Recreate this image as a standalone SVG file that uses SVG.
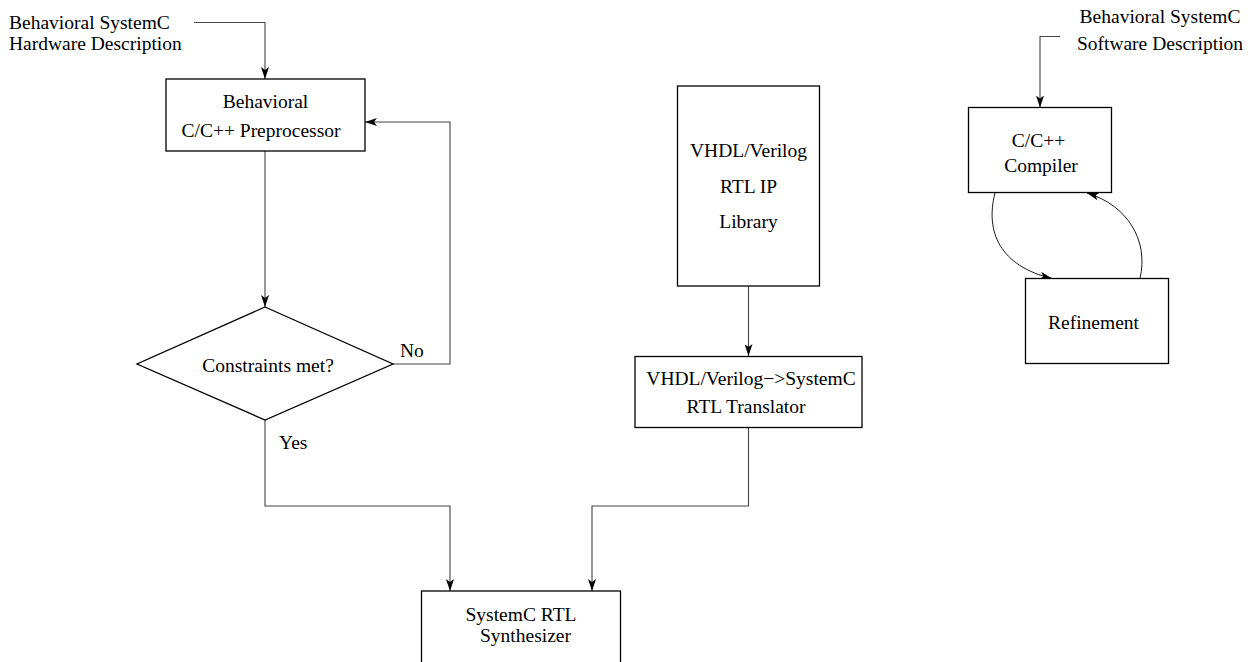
<svg xmlns="http://www.w3.org/2000/svg" width="1251" height="662" viewBox="0 0 1251 662">
  <style>
    .box { fill: #fff; stroke: #000; stroke-width: 1.3; }
    .lbl { font-family: "Liberation Serif", "Times New Roman", serif; font-size: 19.5px; fill: #000; }
    .mid { text-anchor: middle; }
    .wire { fill: none; stroke: #444; stroke-width: 1.1; }
    .curve { fill: none; stroke: #000; stroke-width: 0.9; }
  </style>
  <defs>
    <marker id="arrow" viewBox="0 0 12 8" refX="12" refY="4" markerWidth="12" markerHeight="8" markerUnits="userSpaceOnUse" orient="auto">
      <path d="M0,0 L12,4 L0,8 L3,4 z" fill="#000"/>
    </marker>
  </defs>

  <rect width="1251" height="662" fill="#fff"/>

  <!-- connectors -->
  <g id="connectors">
    <path class="wire" d="M194,22.5 H265 V79" marker-end="url(#arrow)"/>
    <path class="wire" d="M265,151 V307" marker-end="url(#arrow)"/>
    <path class="wire" d="M393,364 H450 V122 H365" marker-end="url(#arrow)"/>
    <path class="wire" d="M265,420 V506 H450 V591" marker-end="url(#arrow)"/>
    <path class="wire" d="M748.5,286 V356" marker-end="url(#arrow)"/>
    <path class="wire" d="M748.5,428 V506 H592 V591" marker-end="url(#arrow)"/>
    <path class="wire" d="M1060,36.5 H1040 V107.5" marker-end="url(#arrow)"/>
    <path class="curve" d="M995,193 C985,232 1000,266 1052,278.5" marker-end="url(#arrow)"/>
    <path class="curve" d="M1140,278.5 C1149,240 1127,205 1087,193" marker-end="url(#arrow)"/>
  </g>

  <!-- free-standing input labels -->
  <g id="hw-input">
    <text class="lbl" x="9" y="29">Behavioral SystemC</text>
    <text class="lbl" x="9" y="50">Hardware Description</text>
  </g>
  <g id="sw-input">
    <text class="lbl mid" x="1160" y="23">Behavioral SystemC</text>
    <text class="lbl mid" x="1160" y="50">Software Description</text>
  </g>

  <g id="preprocessor">
    <rect class="box" x="166" y="79" width="199" height="72"/>
    <text class="lbl mid" x="265.5" y="108">Behavioral</text>
    <text class="lbl mid" x="261" y="137">C/C++ Preprocessor</text>
  </g>

  <g id="decision">
    <polygon class="box" points="265,307 393,364 265,420 137,364"/>
    <text class="lbl mid" x="268" y="371.5">Constraints met?</text>
    <text class="lbl" x="400" y="357">No</text>
    <text class="lbl" x="279" y="449">Yes</text>
  </g>

  <g id="ip-library">
    <rect class="box" x="677.5" y="86" width="142" height="200"/>
    <text class="lbl mid" x="748.5" y="157">VHDL/Verilog</text>
    <text class="lbl mid" x="748.5" y="193">RTL IP</text>
    <text class="lbl mid" x="748.5" y="228">Library</text>
  </g>

  <g id="translator">
    <rect class="box" x="635" y="356.5" width="227" height="71"/>
    <text class="lbl mid" x="751" y="385">VHDL/Verilog−&gt;SystemC</text>
    <text class="lbl mid" x="746" y="412.5">RTL Translator</text>
  </g>

  <g id="synthesizer">
    <rect class="box" x="421.5" y="591" width="199" height="75"/>
    <text class="lbl mid" x="521" y="621">SystemC RTL</text>
    <text class="lbl mid" x="525.5" y="642">Synthesizer</text>
  </g>

  <g id="compiler">
    <rect class="box" x="968.5" y="107.5" width="143" height="85"/>
    <text class="lbl mid" x="1038.5" y="146.5">C/C++</text>
    <text class="lbl mid" x="1041" y="172">Compiler</text>
  </g>

  <g id="refinement">
    <rect class="box" x="1025.5" y="278.5" width="143" height="85"/>
    <text class="lbl mid" x="1093.5" y="328.5">Refinement</text>
  </g>
</svg>
